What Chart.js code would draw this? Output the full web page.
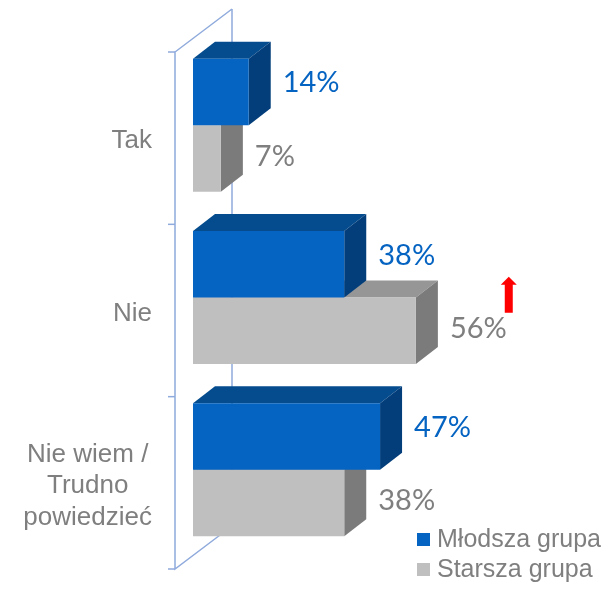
<!DOCTYPE html>
<html>
<head>
<meta charset="utf-8">
<script src="https://cdn.jsdelivr.net/npm/chart.js@4/dist/chart.umd.min.js"></script>
<style>
  html, body { margin: 0; padding: 0; background: #ffffff; }
  #wrap { width: 615px; height: 593px; position: relative; }
</style>
</head>
<body>
<div id="wrap"><canvas id="chart"></canvas></div>
<script>
// data
let categories = ['Tak', 'Nie', ['Nie wiem /', 'Trudno', 'powiedzieć']];
let seriesNames = ['Młodsza grupa', 'Starsza grupa'];
let mlodsza = [14, 38, 47];
let starsza = [7, 56, 38];
// red arrow drawn next to this value (dataset, category)
let arrowMarks = [{ dataset: 1, index: 1 }];

let front = ['#0563c1', '#bfbfbf'];
let topFace = ['#044c8e', '#969696'];
let sideFace = ['#033e7b', '#7b7b7b'];
let labelColor = ['#0563c1', '#7f7f7f'];
let labelLift = [9, 2];

let depth = { x: 22, y: 17 };
let wall = { x: 57, y: 43, shift: 18, drop: 13 };

let fakeBars = {
	id: 'fakeBars',
	beforeDatasetsDraw(chart) {
		let ctx = chart.ctx;
		let area = chart.chartArea;
		let yScale = chart.scales.y;
		let n = chart.data.labels.length;
		let fx = area.left - wall.shift;
		let ys = [];
		for (let i = 0; i <= n; i++) ys.push(yScale.getPixelForValue(i - 0.5) + wall.drop);

		// side wall of the 3d axis
		ctx.save();
		ctx.strokeStyle = '#8faadc';
		ctx.lineWidth = 1.5;
		ctx.beginPath();
		ctx.moveTo(fx + wall.x, ys[0] - wall.y);
		ctx.lineTo(fx + wall.x, ys[n] - wall.y);
		ctx.stroke();
		ctx.beginPath();
		ctx.moveTo(fx + wall.x, ys[0] - wall.y);
		ctx.lineTo(fx, ys[0]);
		ctx.lineTo(fx, ys[n]);
		ctx.lineTo(fx + wall.x, ys[n] - wall.y);
		ctx.stroke();
		ys.forEach(y => {
			ctx.beginPath();
			ctx.moveTo(fx - 7, y);
			ctx.lineTo(fx, y);
			ctx.stroke();
		});

		// top and side faces, lower bars first
		let items = [];
		chart.data.datasets.forEach((ds, d) => {
			chart.getDatasetMeta(d).data.forEach(bar => items.push({ bar, d }));
		});
		items.sort((a, b) => b.bar.y - a.bar.y);
		items.forEach(({ bar, d }) => {
			let top = bar.y - bar.height / 2;
			let bottom = bar.y + bar.height / 2;
			ctx.fillStyle = topFace[d];
			ctx.beginPath();
			ctx.moveTo(bar.base, top);
			ctx.lineTo(bar.base + depth.x, top - depth.y);
			ctx.lineTo(bar.x + depth.x, top - depth.y);
			ctx.lineTo(bar.x, top);
			ctx.closePath();
			ctx.fill();
			ctx.fillStyle = sideFace[d];
			ctx.beginPath();
			ctx.moveTo(bar.x, top);
			ctx.lineTo(bar.x + depth.x, top - depth.y);
			ctx.lineTo(bar.x + depth.x, bottom - depth.y);
			ctx.lineTo(bar.x, bottom);
			ctx.closePath();
			ctx.fill();
		});
		ctx.restore();
	},
	afterDraw(chart) {
		let ctx = chart.ctx;
		let area = chart.chartArea;
		let yScale = chart.scales.y;
		ctx.save();

		// value labels
		ctx.font = '29px Lato';
		ctx.textAlign = 'left';
		ctx.textBaseline = 'middle';
		chart.data.datasets.forEach((ds, d) => {
			chart.getDatasetMeta(d).data.forEach((bar, i) => {
				let text = ds.data[i] + '%';
				let lx = bar.x + depth.x + 12;
				let ly = bar.y - labelLift[d];
				ctx.fillStyle = labelColor[d];
				ctx.fillText(text, lx, ly);
				arrowMarks.forEach(m => {
					if (m.dataset !== d || m.index !== i) return;
					let cx = lx + ctx.measureText(text).width + 2;
					let b = ly - 16;
					ctx.fillStyle = '#ff0000';
					ctx.beginPath();
					ctx.moveTo(cx - 4, b);
					ctx.lineTo(cx - 4, b - 28);
					ctx.lineTo(cx - 8, b - 28);
					ctx.lineTo(cx, b - 36);
					ctx.lineTo(cx + 8, b - 28);
					ctx.lineTo(cx + 4, b - 28);
					ctx.lineTo(cx + 4, b);
					ctx.closePath();
					ctx.fill();
				});
			});
		});

		// category labels
		ctx.font = '26px "Liberation Sans"';
		ctx.fillStyle = '#7f7f7f';
		ctx.textAlign = 'center';
		let right = area.left - 41;
		let lineH = 31.5;
		chart.data.labels.forEach((lab, i) => {
			let lines = Array.isArray(lab) ? lab : [lab];
			let w = Math.max(...lines.map(l => ctx.measureText(l).width));
			let cx = right - w / 2;
			let cy = yScale.getPixelForValue(i) + 16;
			lines.forEach((l, k) => {
				ctx.fillText(l, cx, cy + (k - (lines.length - 1) / 2) * lineH);
			});
		});

		// legend
		ctx.font = '25px "Liberation Sans"';
		ctx.textAlign = 'left';
		let lx = area.right - 174;
		let ly = chart.height - 60;
		chart.data.datasets.forEach((ds, d) => {
			ctx.fillStyle = ds.backgroundColor;
			ctx.fillRect(lx, ly + d * 30, 13, 13);
			ctx.fillStyle = '#7f7f7f';
			ctx.fillText(ds.label, lx + 20, ly + d * 30 + 7);
		});
		ctx.restore();
	}
};

let ctx = document.getElementById('chart').getContext('2d');

let chart = new Chart(ctx, {
	type: 'bar',
	data: {
		labels: categories,
		datasets: [{
			label: seriesNames[0],
			data: mlodsza,
			backgroundColor: front[0],
			borderWidth: 0
		}, {
			label: seriesNames[1],
			data: starsza,
			backgroundColor: front[1],
			borderWidth: 0
		}]
	},
	options: {
		indexAxis: 'y',
		responsive: true,
		maintainAspectRatio: false,
		animation: false,
		categoryPercentage: 0.772,
		barPercentage: 1,
		layout: {
			padding: { left: 193, right: 24, top: 39, bottom: 37 }
		},
		scales: {
			x: { min: 0, max: 100, display: false },
			y: { display: false }
		},
		plugins: {
			legend: { display: false },
			tooltip: { enabled: false }
		}
	},
	plugins: [fakeBars]
});
</script>
</body>
</html>
